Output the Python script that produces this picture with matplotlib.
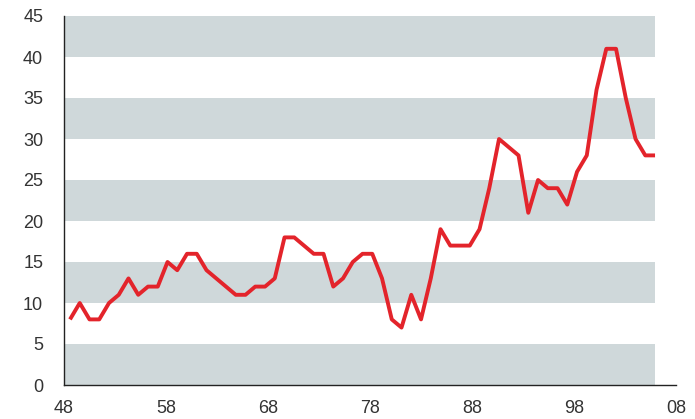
import matplotlib
matplotlib.use("Agg")
import matplotlib.pyplot as plt
import numpy as np

# Annual series, 1948-2008
years = list(range(1948, 2009))
values = [8, 10, 8, 8, 10, 11, 13, 11, 12, 12,
          15, 14, 16, 16, 14, 13, 12, 11, 11, 12,
          12, 13, 18, 18, 17, 16, 16, 12, 13, 15,
          16, 16, 13, 8, 7, 11, 8, 13, 19, 17,
          17, 17, 19, 24, 30, 29, 28, 21, 25, 24,
          24, 22, 26, 28, 36, 41, 41, 35, 30, 28, 28]

# Axis labelling
y_ticks = list(range(0, 50, 5))
x_tick_years = list(range(1948, 2009, 10))
x_tick_labels = [f"{y % 100:02d}" for y in x_tick_years]

band_color = "#cfd8da"
line_color = "#e3242b"
text_color = "#333333"
font = "Liberation Sans"

fig = plt.figure(figsize=(6.95, 4.19), dpi=100)
ax = fig.add_axes([64 / 695, 1 - 385 / 419, 612 / 695, 369 / 419])

# data axis range: series spans slightly less than the labelled axis
x_left, x_right = 1947.385, 2010.15
ax.set_xlim(x_left, x_right)
ax.set_ylim(0, 45)

# alternating horizontal bands
for lo in range(0, 45, 10):
    ax.fill_between([x_left, years[-1]], lo, lo + 5, color=band_color,
                    linewidth=0, zorder=0)

ax.plot(years, values, color=line_color, linewidth=2.8,
        solid_joinstyle="round", solid_capstyle="butt", zorder=3)

ax.set_yticks(y_ticks)
ax.set_yticklabels([str(v) for v in y_ticks], fontsize=13,
                   color=text_color, fontfamily=font)
ax.tick_params(axis="y", length=0, pad=15)
ax.set_xticks([])

for side in ("top", "right"):
    ax.spines[side].set_visible(False)
for side in ("left", "bottom"):
    ax.spines[side].set_color("#222222")
    ax.spines[side].set_linewidth(1.0)

# labelled year axis along the bottom
ax2 = ax.twiny()
ax2.set_xlim(1948, 2008)
ax2.xaxis.set_ticks_position("bottom")
ax2.xaxis.set_label_position("bottom")
ax2.set_xticks(x_tick_years)
ax2.set_xticklabels(x_tick_labels, fontsize=13, color=text_color,
                    fontfamily=font)
ax2.tick_params(axis="x", length=0, pad=11)
for side in ax2.spines.values():
    side.set_visible(False)

fig.savefig("out.png", dpi=100, facecolor="white")
